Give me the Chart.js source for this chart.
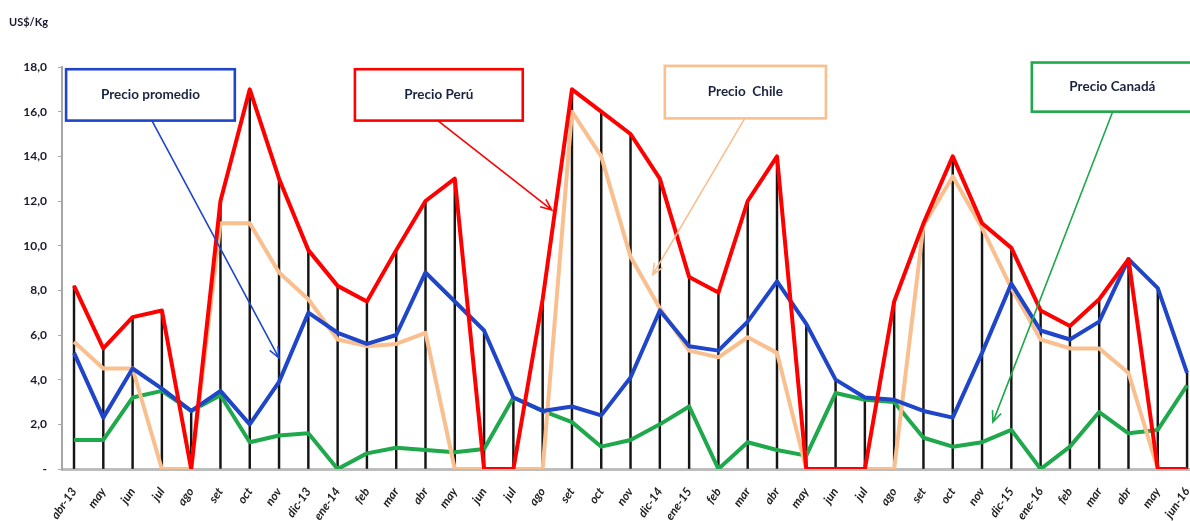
<!DOCTYPE html>
<html>
<head>
<meta charset="utf-8">
<script src="https://cdn.jsdelivr.net/npm/chart.js@4/dist/chart.umd.min.js"></script>
<style>
  html, body { margin: 0; padding: 0; background: #fff; }
</style>
</head>
<body>
<canvas id="preciosChart" width="1190" height="521"></canvas>
<script>
/*---- datos ----- */
var meses = ['abr-13', 'may', 'jun', 'jul', 'ago', 'set', 'oct', 'nov', 'dic-13',
  'ene-14', 'feb', 'mar', 'abr', 'may', 'jun', 'jul', 'ago', 'set', 'oct', 'nov', 'dic-14',
  'ene-15', 'feb', 'mar', 'abr', 'may', 'jun', 'jul', 'ago', 'set', 'oct', 'nov', 'dic-15',
  'ene-16', 'feb', 'mar', 'abr', 'may', 'jun-16'];

var precioPromedio = [5.2, 2.3, 4.5, 3.6, 2.6, 3.5, 2.0, 3.9, 7.0, 6.1, 5.6, 6.0, 8.8, 7.5, 6.2,
  3.2, 2.6, 2.8, 2.4, 4.1, 7.1, 5.5, 5.3, 6.6, 8.4, 6.5, 4.0, 3.2, 3.1, 2.6, 2.3, 5.2, 8.3,
  6.2, 5.8, 6.6, 9.4, 8.1, 4.3];
var precioPeru = [8.2, 5.4, 6.8, 7.1, 0, 12.0, 17.0, 13.0, 9.8, 8.2, 7.5, 9.8, 12.0, 13.0, 0,
  0, 7.6, 17.0, 16.0, 15.0, 13.0, 8.6, 7.9, 12.0, 14.0, 0, 0, 0, 7.5, 11.0, 14.0, 11.0, 9.9,
  7.1, 6.4, 7.6, 9.4, 0, 0];
var precioChile = [5.7, 4.5, 4.5, 0, 0, 11.0, 11.0, 8.8, 7.6, 5.8, 5.5, 5.6, 6.1, 0, 0,
  0, 0, 16.0, 14.0, 9.5, 7.2, 5.3, 5.0, 5.9, 5.2, 0, 0, 0, 0, 10.9, 13.1, 10.8, 8.1,
  5.8, 5.4, 5.4, 4.3, 0, 0];
var precioCanada = [1.3, 1.3, 3.2, 3.5, 2.6, 3.3, 1.2, 1.5, 1.6, 0, 0.7, 0.95, 0.85, 0.75, 0.9,
  3.2, 2.6, 2.1, 1.0, 1.3, 2.0, 2.8, 0, 1.2, 0.85, 0.6, 3.4, 3.1, 3.0, 1.4, 1.0, 1.2, 1.75,
  0, 1.0, 2.55, 1.6, 1.75, 3.75];

var yTicks = [0, 2, 4, 6, 8, 10, 12, 14, 16, 18];

// punto por mes para el eje lineal
function puntos(serie) {
  return serie.map(function (v, i) { return { x: i, y: v }; });
}

// lineas verticales: del valor mas alto de cada mes hasta el eje
var maximos = meses.map(function (m, i) {
  return Math.max(precioPromedio[i], precioPeru[i], precioChile[i], precioCanada[i]);
});

/*---- cajas con flecha (en coordenadas de los ejes) ----- */
var notas = [
  { texto: 'Precio promedio', color: '#1f45c8', caja: [-0.27, 17.9, 5.49, 15.6], flecha: [2.66, 15.6, 7.0, 4.97] },
  { texto: 'Precio Perú', color: '#ff0000', caja: [9.59, 17.9, 15.32, 15.6], flecha: [12.42, 15.6, 16.31, 11.6] },
  { texto: 'Precio  Chile', color: '#f9bf8f', caja: [20.17, 18.05, 25.67, 15.7], flecha: [22.9, 15.7, 19.76, 8.7] },
  { texto: 'Precio Canadá', color: '#1fa84c', caja: [32.7, 18.2, 38.2, 16.0], flecha: [35.46, 16.0, 31.37, 2.1] }
];

var notasPlugin = {
  id: 'notas',
  afterDraw: function (chart) {
    var ctx = chart.ctx;
    var sx = chart.scales.x, sy = chart.scales.y;
    ctx.save();

    ctx.font = 'bold 11px Lato';
    ctx.fillStyle = '#1a1a2e';
    ctx.textBaseline = 'middle';
    ctx.textAlign = 'left';
    ctx.fillText('US$/Kg', 9, 22);

    notas.forEach(function (n) {
      var x1 = sx.getPixelForValue(n.caja[0]), y1 = sy.getPixelForValue(n.caja[1]);
      var x2 = sx.getPixelForValue(n.caja[2]), y2 = sy.getPixelForValue(n.caja[3]);
      ctx.fillStyle = '#ffffff';
      ctx.fillRect(x1, y1, x2 - x1, y2 - y1);
      ctx.strokeStyle = n.color;
      ctx.lineWidth = 2.6;
      ctx.strokeRect(x1, y1, x2 - x1, y2 - y1);

      ctx.fillStyle = '#1c2340';
      ctx.font = 'bold 13.5px Lato';
      ctx.textAlign = 'center';
      ctx.fillText(n.texto, (x1 + x2) / 2, (y1 + y2) / 2);

      var ax = sx.getPixelForValue(n.flecha[0]), ay = sy.getPixelForValue(n.flecha[1]);
      var bx = sx.getPixelForValue(n.flecha[2]), by = sy.getPixelForValue(n.flecha[3]);
      var ang = Math.atan2(by - ay, bx - ax);
      ctx.lineWidth = 1.6;
      ctx.beginPath();
      ctx.moveTo(ax, ay);
      ctx.lineTo(bx, by);
      ctx.moveTo(bx - 12 * Math.cos(ang - 0.4), by - 12 * Math.sin(ang - 0.4));
      ctx.lineTo(bx, by);
      ctx.lineTo(bx - 12 * Math.cos(ang + 0.4), by - 12 * Math.sin(ang + 0.4));
      ctx.stroke();
    });
    ctx.restore();
  }
};

function linea(label, serie, color, orden) {
  return {
    type: 'line',
    label: label,
    data: puntos(serie),
    borderColor: color,
    borderWidth: 4,
    borderJoinStyle: 'round',
    tension: 0,
    pointRadius: 0,
    fill: false,
    order: orden
  };
}

var ctx = document.getElementById('preciosChart').getContext('2d');
var preciosChart = new Chart(ctx, {
  type: 'bar',
  data: {
    datasets: [
      {
        type: 'bar',
        label: 'max',
        data: puntos(maximos),
        backgroundColor: '#151515',
        barThickness: 1.8,
        order: 10
      },
      linea('Precio Canadá', precioCanada, '#1fa84c', 4),
      linea('Precio Chile', precioChile, '#f9bf8f', 3),
      linea('Precio promedio', precioPromedio, '#1f45c8', 2),
      linea('Precio Perú', precioPeru, '#ff0000', 1)
    ]
  },
  options: {
    responsive: false,
    animation: false,
    layout: { padding: { top: 67, right: 0, bottom: 0, left: 0 } },
    plugins: {
      legend: { display: false },
      tooltip: { enabled: false }
    },
    scales: {
      x: {
        type: 'linear',
        offset: false,
        min: -0.41,
        max: 38.1,
        afterBuildTicks: function (s) {
          s.ticks = meses.map(function (m, i) { return { value: i }; });
        },
        afterFit: function (s) {
          s.height = 52;
          s.paddingLeft = 0;
          s.paddingRight = 0;
        },
        grid: { display: false, offset: false },
        border: { display: true, color: '#bdbdbd', width: 3 },
        ticks: {
          autoSkip: false,
          minRotation: 55,
          maxRotation: 55,
          padding: 8,
          color: '#222',
          font: { family: 'Lato', size: 12, weight: 'bold', style: 'italic' },
          callback: function (v) { return meses[v]; }
        }
      },
      y: {
        min: 0,
        max: 18,
        afterBuildTicks: function (s) {
          s.ticks = yTicks.map(function (v) { return { value: v }; });
        },
        afterFit: function (s) { s.width = 62; },
        grid: { drawOnChartArea: false, drawTicks: true, tickLength: 4, color: '#a6a6a6' },
        border: { display: true, color: '#a6a6a6', width: 2 },
        ticks: {
          padding: 11,
          color: '#1a1a2e',
          font: { family: 'Lato', size: 12, weight: 'bold' },
          callback: function (v) { return v === 0 ? '-' : v.toFixed(1).replace('.', ','); }
        }
      }
    }
  },
  plugins: [notasPlugin]
});
</script>
</body>
</html>
